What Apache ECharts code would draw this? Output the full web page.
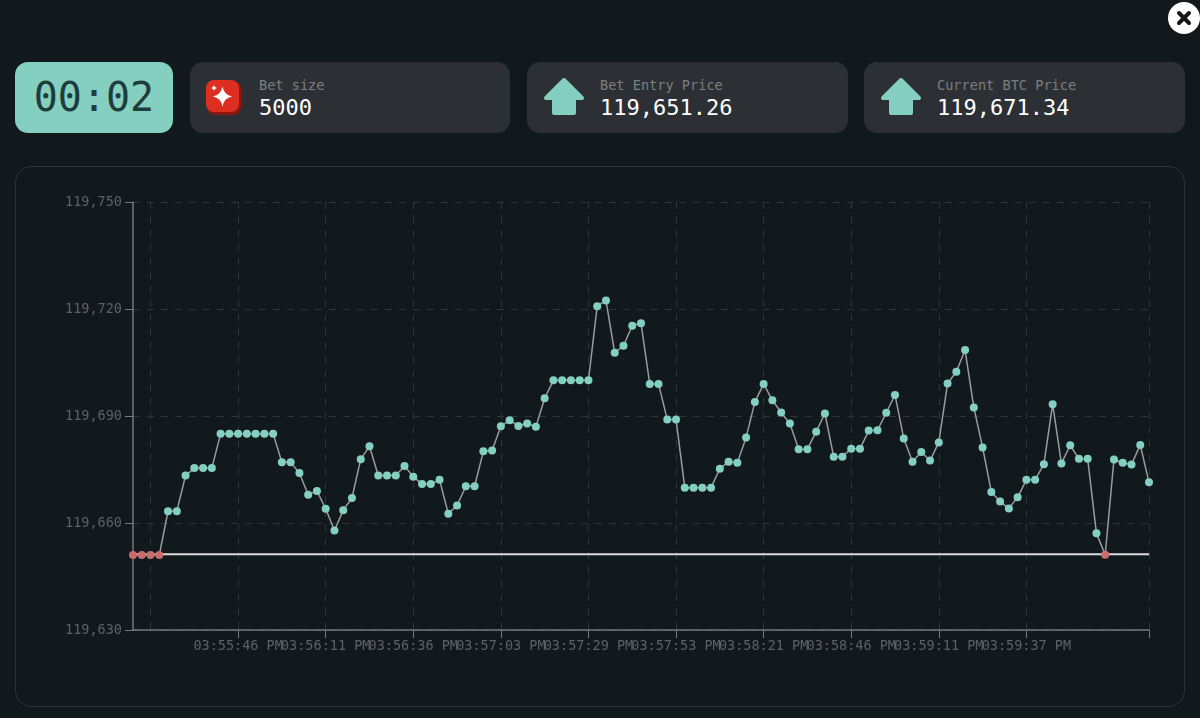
<!DOCTYPE html>
<html>
<head>
<meta charset="utf-8">
<script src="https://cdn.jsdelivr.net/npm/echarts@6/dist/echarts.min.js"></script>
<style>
  html, body { margin: 0; padding: 0; width: 1200px; height: 718px; overflow: hidden; background: #12191d; }
  body { position: relative; font-family: "DejaVu Sans Mono", monospace; }
  .timer, .stat, .panel, .close, #chart { position: absolute; box-sizing: border-box; }
  .timer { left: 15px; top: 62px; width: 158px; height: 71px; border-radius: 13px; background: #84cfc0;
    color: #1f3d3d; font-size: 40px; line-height: 71px; text-align: center; }
  .stat { top: 62px; height: 71px; border-radius: 13px; background: #2c3035; }
  .stat svg { position: absolute; }
  .stat .name { position: absolute; top: 14px; color: #7c7e82; font-size: 13.6px; line-height: 18px; white-space: nowrap; }
  .stat .val { position: absolute; top: 32px; color: #fff; font-size: 22px; line-height: 28px; white-space: nowrap; }
  .panel { left: 15px; top: 166px; width: 1170px; height: 541px; border: 1px solid #2c3336; border-radius: 16px; }
  #chart { left: 15px; top: 166px; width: 1140px; height: 540px; }
  .close { left: 1168px; top: 2px; width: 32px; height: 32px; border-radius: 50%; background: #fff; }
</style>
</head>
<body>
<div class="close">
  <svg width="32" height="32"><path d="M11 11 L21 21 M21 11 L11 21" stroke="#12191d" stroke-width="4" stroke-linecap="round"/></svg>
</div>
<div class="timer" id="timer"></div>

<div class="stat" style="left:190px;width:320px">
  <svg style="left:15px;top:17px" width="38" height="38" viewBox="0 0 38 38">
    <rect x="2" y="2" width="34" height="34" rx="8" fill="#8e1510"/>
    <rect x="1" y="1" width="33" height="32" rx="8" fill="#dc2f22"/>
    <path d="M17.5 7.5 Q19 16 27 17.5 Q19 19 17.5 27.5 Q16 19 8 17.5 Q16 16 17.5 7.5 Z" fill="#fff"/>
    <path d="M9 6 Q9.4 8.6 12 9 Q9.4 9.4 9 12 Q8.6 9.4 6 9 Q8.6 8.6 9 6 Z" fill="#fff"/>
  </svg>
  <div class="name" style="left:69px" id="betName"></div>
  <div class="val" style="left:69px" id="betVal"></div>
</div>

<div class="stat" style="left:527px;width:321px">
  <svg style="left:16px;top:15px" width="42" height="42" viewBox="0 0 42 42">
    <path d="M21 3 L39 21 L31 21 L31 36 L11 36 L11 21 L3 21 Z" fill="#84cfc0" stroke="#84cfc0" stroke-width="4" stroke-linejoin="round"/>
  </svg>
  <div class="name" style="left:73px" id="entryName"></div>
  <div class="val" style="left:73px" id="entryVal"></div>
</div>

<div class="stat" style="left:864px;width:321px">
  <svg style="left:16px;top:15px" width="42" height="42" viewBox="0 0 42 42">
    <path d="M21 3 L39 21 L31 21 L31 36 L11 36 L11 21 L3 21 Z" fill="#84cfc0" stroke="#84cfc0" stroke-width="4" stroke-linejoin="round"/>
  </svg>
  <div class="name" style="left:73px" id="curName"></div>
  <div class="val" style="left:73px" id="curVal"></div>
</div>

<div class="panel"></div>
<div id="chart"></div>

<script>
const monoFont = '"DejaVu Sans Mono", monospace';

const timerText = '00:02';
const betSize = '5000';
const entryText = '119,651.26';
const currentText = '119,671.34';
const entryPrice = 119651.26;

// one per dot
const prices = [
  119651.0, 119651.0, 119651.0, 119651.0, 119663.3, 119663.3, 119673.3, 119675.4, 119675.4, 119675.4,
  119685.0, 119685.0, 119685.0, 119685.0, 119685.0, 119685.0, 119685.0, 119677.0, 119677.0, 119674.0,
  119667.9, 119669.0, 119664.0, 119657.9, 119663.6, 119667.0, 119677.9, 119681.5, 119673.3, 119673.3,
  119673.3, 119676.0, 119673.0, 119670.9, 119670.9, 119672.1, 119662.6, 119664.9, 119670.3, 119670.3,
  119680.1, 119680.3, 119687.1, 119688.8, 119687.2, 119687.9, 119687.0, 119695.0, 119700.0, 119700.0,
  119700.0, 119700.0, 119700.0, 119720.8, 119722.4, 119707.7, 119709.7, 119715.3, 119716.0, 119699.0,
  119699.0, 119689.0, 119689.0, 119669.9, 119669.9, 119669.9, 119669.9, 119675.2, 119677.2, 119676.9,
  119684.0, 119693.9, 119699.0, 119694.4, 119691.0, 119687.9, 119680.7, 119680.7, 119685.6, 119690.7,
  119678.6, 119678.6, 119680.8, 119680.8, 119685.9, 119686.0, 119690.9, 119695.9, 119683.7, 119677.2,
  119679.9, 119677.5, 119682.6, 119699.1, 119702.4, 119708.5, 119692.4, 119681.2, 119668.7, 119666.0,
  119664.1, 119667.2, 119672.1, 119672.1, 119676.5, 119693.3, 119676.7, 119681.8, 119678.0, 119678.0,
  119657.1, 119651.1, 119677.8, 119676.9, 119676.4, 119681.9, 119671.4
];

// only the labelled timestamps can be read
const timeLabels = {
  2: '03:55:19 PM', 12: '03:55:46 PM', 22: '03:56:11 PM', 32: '03:56:36 PM',
  42: '03:57:03 PM', 52: '03:57:29 PM', 62: '03:57:53 PM', 72: '03:58:21 PM',
  82: '03:58:46 PM', 92: '03:59:11 PM', 102: '03:59:37 PM', 112: '04:00:12 PM'
};
const gridIndexes = [2, 12, 22, 32, 42, 52, 62, 72, 82, 92, 102, 116];
const yTicks = [119630, 119660, 119690, 119720, 119750];

document.getElementById('timer').textContent = timerText;
document.getElementById('betName').textContent = 'Bet size';
document.getElementById('betVal').textContent = betSize;
document.getElementById('entryName').textContent = 'Bet Entry Price';
document.getElementById('entryVal').textContent = entryText;
document.getElementById('curName').textContent = 'Current BTC Price';
document.getElementById('curVal').textContent = currentText;

const categories = prices.map((p, i) => timeLabels[i] || '');
const onGrid = (i) => gridIndexes.indexOf(i) >= 0;

const myChart = echarts.init(document.getElementById('chart'));
myChart.setOption({
  animation: false,
  backgroundColor: 'transparent',
  grid: { left: 118, right: 6, top: 36, bottom: 76 },
  xAxis: {
    type: 'category',
    boundaryGap: false,
    data: categories,
    axisLine: { lineStyle: { color: '#77797b', width: 1.5 } },
    axisTick: { interval: (i) => onGrid(i), length: 8, lineStyle: { color: '#77797b', width: 1 } },
    axisLabel: {
      interval: (i) => timeLabels[i] !== undefined,
      color: '#5c6164', fontFamily: monoFont, fontSize: 13.5, margin: 9
    },
    splitLine: {
      show: true,
      interval: (i) => onGrid(i),
      lineStyle: { color: '#2f3639', type: [7, 7], width: 1 }
    }
  },
  yAxis: {
    type: 'value',
    min: 119630,
    max: 119750,
    axisLine: { show: true, lineStyle: { color: '#77797b', width: 1.5 } },
    axisTick: { show: true, length: 8, customValues: yTicks, lineStyle: { color: '#77797b', width: 1 } },
    axisLabel: {
      customValues: yTicks,
      color: '#5c6164', fontFamily: monoFont, fontSize: 13.5, margin: 11,
      formatter: (v) => v.toLocaleString('en-US')
    },
    splitLine: { show: true, lineStyle: { color: '#2f3639', type: [7, 7], width: 1 } }
  },
  series: [
    {
      name: 'entry',
      type: 'line',
      z: 1,
      silent: true,
      showSymbol: false,
      data: prices.map(() => entryPrice),
      lineStyle: { color: '#d9dadb', width: 2 }
    },
    {
      name: 'price',
      type: 'line',
      z: 3,
      data: prices,
      showAllSymbol: true,
      symbol: 'circle',
      symbolSize: 8,
      lineStyle: { color: '#999c9d', width: 1.5 },
      itemStyle: {
        opacity: 1,
        color: (p) => (p.value < entryPrice ? '#c96c6c' : '#84d0c0')
      }
    }
  ]
});
</script>
</body>
</html>
